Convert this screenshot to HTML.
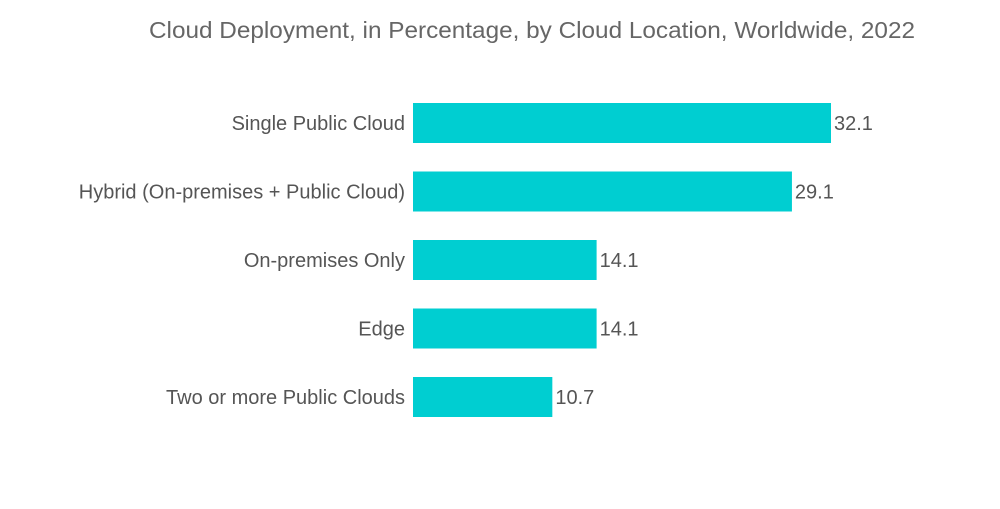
<!DOCTYPE html>
<html><head><meta charset="utf-8"><style>
body{margin:0;background:#fff;width:1000px;height:504px;overflow:hidden}
svg text{font-family:"Liberation Sans",sans-serif}
</style></head><body>
<svg id="chart" width="1000" height="504" viewBox="0 0 1000 504">
<text x="149" y="38" font-size="23" fill="#666" textLength="766" lengthAdjust="spacingAndGlyphs">Cloud Deployment, in Percentage, by Cloud Location, Worldwide, 2022</text>
<g id="bars"></g>
</svg>
<script>
const categories = ["Single Public Cloud","Hybrid (On-premises + Public Cloud)","On-premises Only","Edge","Two or more Public Clouds"];
const values = [32.1, 29.1, 14.1, 14.1, 10.7];
const labels = ["32.1","29.1","14.1","14.1","10.7"];
const x0 = 413, pxPerUnit = 418/32.1;
const xScale = v => x0 + v*pxPerUnit;
const yScale = i => 103 + i*68.5;
const bh = 40;
const g = document.getElementById('bars');
const NS = "http://www.w3.org/2000/svg";
categories.forEach((c,i)=>{
  const y = yScale(i);
  const r = document.createElementNS(NS,'rect');
  r.setAttribute('x', x0); r.setAttribute('y', y);
  r.setAttribute('width', xScale(values[i]) - x0); r.setAttribute('height', bh);
  r.setAttribute('fill', '#00CED1');
  
  
  g.appendChild(r);
  const t = document.createElementNS(NS,'text');
  t.setAttribute('x', 405); t.setAttribute('y', y + bh/2 + 7);
  t.setAttribute('text-anchor','end'); t.setAttribute('font-size','20'); t.setAttribute('fill','#555');
  t.textContent = c;
  
  
  g.appendChild(t);
  const v = document.createElementNS(NS,'text');
  v.setAttribute('x', xScale(values[i]) + 3); v.setAttribute('y', y + bh/2 + 7);
  v.setAttribute('font-size','20'); v.setAttribute('fill','#555');
  v.textContent = labels[i];
  
  
  g.appendChild(v);
});
</script>
</body></html>
